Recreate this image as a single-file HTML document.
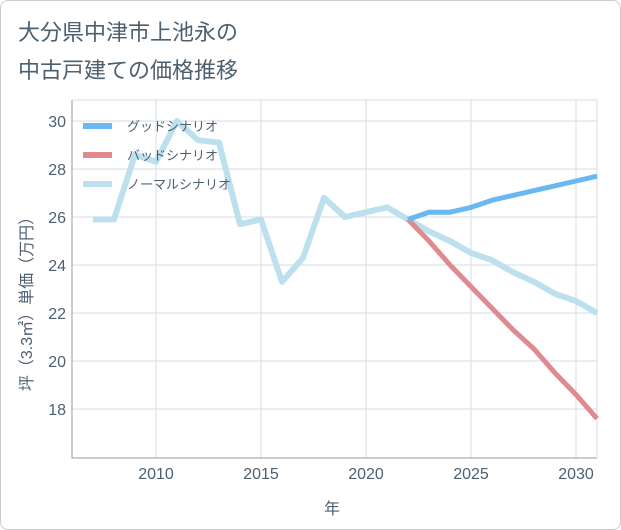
<!DOCTYPE html>
<html><head><meta charset="utf-8"><style>
body{margin:0;background:#fff;font-family:"Liberation Sans","Noto Sans CJK JP",sans-serif;}
#wrap{position:relative;width:619px;height:528px;border:1px solid #ccc;border-radius:8px;overflow:hidden;background:#fff;}
</style></head><body>
<div id="wrap">
<svg id="chart" width="621" height="530" style="position:absolute;left:-1px;top:-1px"></svg>
</div>
<script>
const years=[2007,2008,2009,2010,2011,2012,2013,2014,2015,2016,2017,2018,2019,2020,2021,2022,2023,2024,2025,2026,2027,2028,2029,2030,2031];
const normal=[25.9,25.9,28.6,28.3,30.0,29.2,29.1,25.7,25.9,23.3,24.3,26.8,26.0,26.2,26.4,25.9,25.4,25.0,24.5,24.2,23.7,23.3,22.8,22.5,22.0];
const goodYears=[2022,2023,2024,2025,2026,2027,2028,2029,2030,2031];
const good=[25.9,26.2,26.2,26.4,26.7,26.9,27.1,27.3,27.5,27.7];
const bad=[25.9,25.0,24.0,23.1,22.2,21.3,20.5,19.5,18.6,17.6];
const xTicks=[2010,2015,2020,2025,2030];
const yTicks=[18,20,22,24,26,28,30];
const L=72,R=597,T=100,B=458;
const TXT='#4d6070';
const x=v=>L+(v-2006)*(R-L)/25;
const y=v=>409-(v-18)*24;
const svg=document.getElementById('chart');
const NS='http://www.w3.org/2000/svg';
function mk(t,a,p){const e=document.createElementNS(NS,t);for(const k in a)e.setAttribute(k,a[k]);(p||svg).appendChild(e);return e;}
let e;
e=mk('text',{x:18,y:40,'font-size':22,fill:TXT});e.textContent='大分県中津市上池永の';


e=mk('text',{x:18,y:78,'font-size':22,fill:TXT});e.textContent='中古戸建ての価格推移';


xTicks.forEach(t=>{
 e=mk('line',{x1:x(t),x2:x(t),y1:T,y2:B,stroke:'#d5dde5','stroke-width':1});
 
 
 e=mk('text',{x:x(t),y:479,'font-size':16,fill:TXT,'text-anchor':'middle'});e.textContent=t;
 
 
});
yTicks.forEach(t=>{
 e=mk('line',{x1:L,x2:R,y1:y(t),y2:y(t),stroke:'#d5dde5','stroke-width':1});
 
 
 e=mk('text',{x:66,y:y(t)+6,'font-size':16,fill:TXT,'text-anchor':'end'});e.textContent=t;
 
 
});
e=mk('path',{d:`M${L},${T}V${B}H${R}`,fill:'none',stroke:'#999','stroke-width':1});


e=mk('path',{d:`M${L},${T}H${R}V${B}`,fill:'none',stroke:'#d5dde5','stroke-width':1});


function line(xs,vs,col,w,name){
 const p=mk('polyline',{points:xs.map((v,i)=>x(v)+','+y(vs[i])).join(' '),fill:'none',stroke:col,'stroke-width':w,'stroke-linejoin':'round'});
 
 
}
line(years,normal,'#bde0ef',6,'normal-scenario-line');
line(goodYears,bad,'#e08a90',5,'bad-scenario-line');
line(goodYears,good,'#6ab8f0',5,'good-scenario-line');
const leg=[['グッドシナリオ','#6ab8f0'],['バッドシナリオ','#e08a90'],['ノーマルシナリオ','#bde0ef']];
leg.forEach((l,i)=>{
 const yy=126+i*29;
 e=mk('line',{x1:83,x2:112,y1:yy,y2:yy,stroke:l[1],'stroke-width':6});
 
 
 e=mk('text',{x:127,y:yy+5,'font-size':13,fill:TXT});e.textContent=l[0];
 
 
});
e=mk('text',{x:332,y:514,'font-size':16,fill:TXT,'text-anchor':'middle'});e.textContent='年';


e=mk('text',{x:0,y:0,'font-size':16,fill:TXT,'text-anchor':'middle',transform:'translate(32,300) rotate(-90)'});e.textContent='坪（3.3㎡）単価（万円）';


</script>
</body></html>
